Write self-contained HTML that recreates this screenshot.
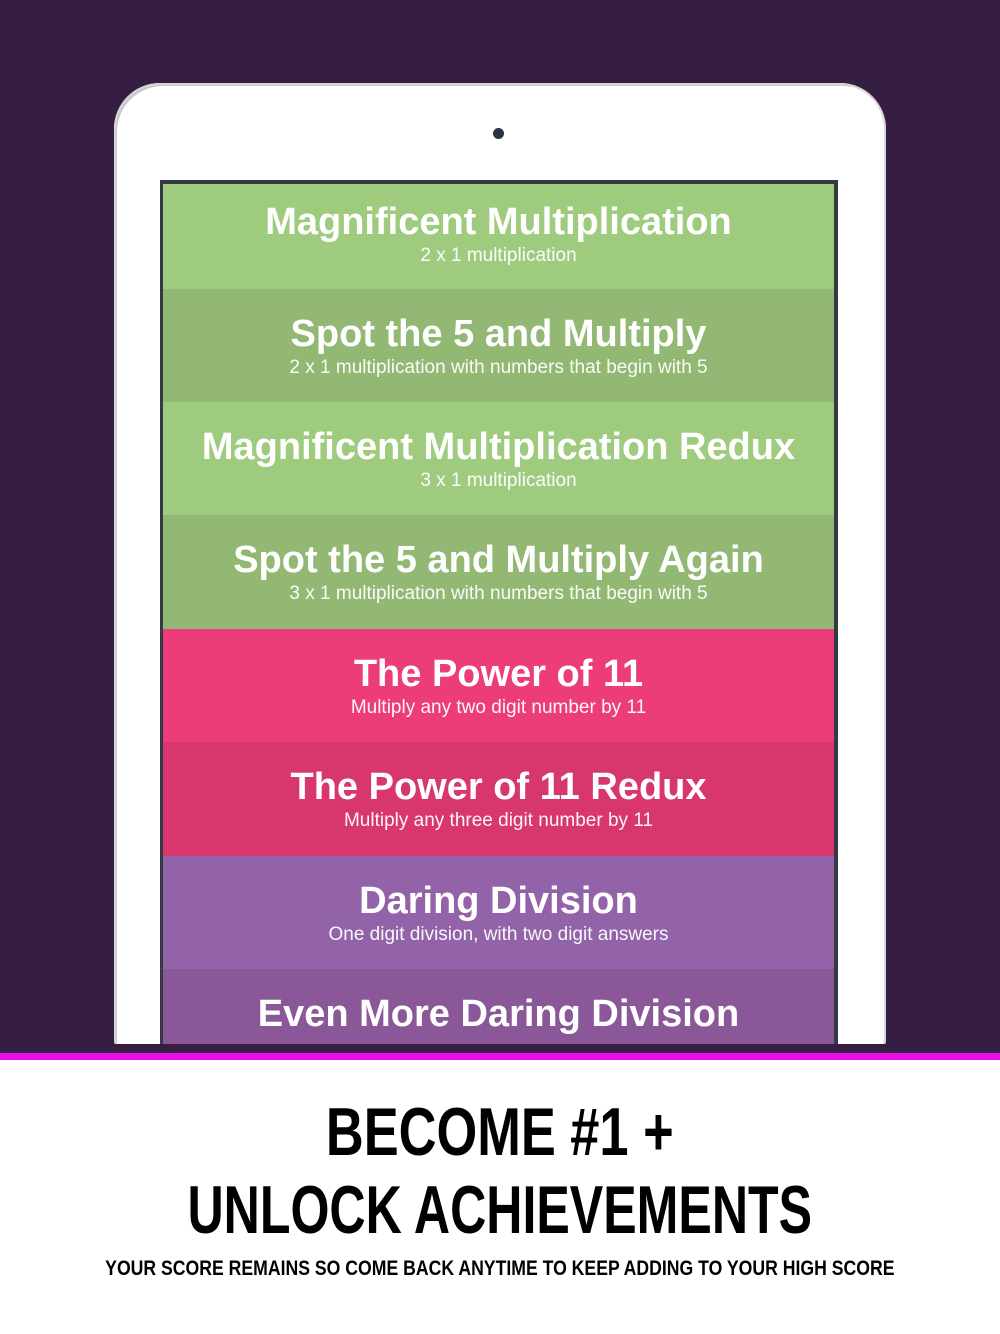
<!DOCTYPE html>
<html><head><style>
body{margin:0;width:1000px;height:1334px;background:#361d42;position:relative;overflow:hidden;font-family:"Liberation Sans",sans-serif}
.ipad{position:absolute;left:114px;top:83px;width:772px;height:1000px;background:#fff;border-radius:46px;box-shadow:inset 0 0 0 2px #d6d6d6,inset 3px 3px 0 #c8c8c8}
.cam{position:absolute;left:493px;top:128px;width:11px;height:11px;border-radius:50%;background:#2a3345}
.screen{position:absolute;left:160px;top:180px;width:678px;height:880px;background:#333a44}
.row{position:absolute;left:163px;width:671px;color:#fff;text-align:center}
.t{font-weight:bold;font-size:38px;line-height:40px;padding-top:18px}
.s{font-size:19px;line-height:22px;font-weight:300;opacity:.95;margin-top:3px}
.bottom{position:absolute;left:0;top:1060px;width:1000px;height:274px;background:#fff}
.mag{position:absolute;left:0;top:1053px;width:1000px;height:7px;background:#e80ce8}
.h{position:absolute;left:0;width:1000px;text-align:center;font-weight:bold;color:#000;white-space:nowrap}
.h span{display:inline-block}
</style></head><body>
<div class="ipad"></div>
<div class="cam"></div>
<div class="screen"></div>
<div class="row" style="top:184px;height:105px;background:#9fcb7f"><div class="t">Magnificent Multiplication</div><div class="s">2 x 1 multiplication</div></div>
<div class="row" style="top:289px;height:113px;background:#93b874"><div class="t" style="padding-top:25px">Spot the 5 and Multiply</div><div class="s">2 x 1 multiplication with numbers that begin with 5</div></div>
<div class="row" style="top:402px;height:113px;background:#9fcb7f"><div class="t" style="padding-top:25px">Magnificent Multiplication Redux</div><div class="s">3 x 1 multiplication</div></div>
<div class="row" style="top:515px;height:114px;background:#93b874"><div class="t" style="padding-top:25px">Spot the 5 and Multiply Again</div><div class="s">3 x 1 multiplication with numbers that begin with 5</div></div>
<div class="row" style="top:629px;height:113px;background:#ec3c7a"><div class="t" style="padding-top:25px">The Power of 11</div><div class="s">Multiply any two digit number by 11</div></div>
<div class="row" style="top:742px;height:114px;background:#d8366e"><div class="t" style="padding-top:25px">The Power of 11 Redux</div><div class="s">Multiply any three digit number by 11</div></div>
<div class="row" style="top:856px;height:113px;background:#9263a8"><div class="t" style="padding-top:25px">Daring Division</div><div class="s">One digit division, with two digit answers</div></div>
<div class="row" style="top:969px;height:75px;background:#8a5799"><div class="t" style="padding-top:25px">Even More Daring Division</div></div>
<div style="position:absolute;left:0;top:1044px;width:1000px;height:9px;background:#361d42"></div>
<div class="mag"></div>
<div class="bottom"></div>
<div class="h" style="top:1094px;font-size:68px;line-height:76px"><span style="transform:scaleX(0.77)">BECOME #1 +</span></div>
<div class="h" style="top:1172px;font-size:68px;line-height:76px"><span style="transform:scaleX(0.737)">UNLOCK ACHIEVEMENTS</span></div>
<div class="h" style="top:1256px;font-size:21px;line-height:26px"><span style="transform:scaleX(0.84)">YOUR SCORE REMAINS SO COME BACK ANYTIME TO KEEP ADDING TO YOUR HIGH SCORE</span></div>
</body></html>
